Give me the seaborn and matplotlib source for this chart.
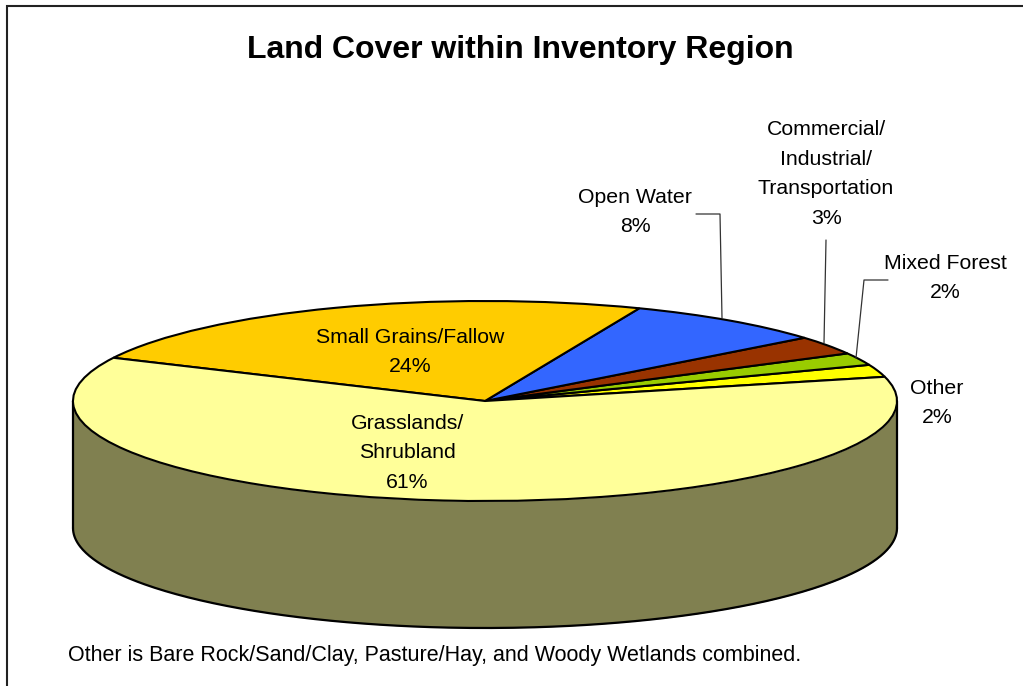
import numpy as np
import matplotlib.pyplot as plt
import matplotlib.transforms as mtransforms
from matplotlib.patches import Rectangle
import seaborn as sns

# data, counter-clockwise from the right side of the pie
categories = ["Other", "Mixed Forest", "Commercial/\nIndustrial/\nTransportation",
              "Open Water", "Small Grains/Fallow", "Grasslands/\nShrubland"]
shares = [2, 2, 3, 8, 24, 61]
colors = ["#FFFF00", "#99CC00", "#993300", "#3366FF", "#FFCC00", "#FFFF99"]
side_color = "#808050"

sns.set_style("white")
plt.rcParams["font.family"] = ["Liberation Sans", "DejaVu Sans"]
plt.rcParams["text.color"] = "black"

W, H = 1023, 686
fig = plt.figure(figsize=(W / 100, H / 100), dpi=100)
ax = fig.add_axes([0, 0, 1, 1])

# pie geometry in pixel units (y up)
cx, cy = 485, H - 401
a, b = 412, 100
depth = 127

# side of the cylinder (front half, all grassland)
t = np.radians(np.linspace(180, 360, 300))
xs = cx + a * np.cos(t)
top = cy + b * np.sin(t)
ax.fill_between(xs, top - depth, top, color=side_color, lw=0, zorder=1)
ax.plot(xs, top - depth, color="black", lw=1.6, zorder=2)
ax.plot([cx - a, cx - a], [cy, cy - depth], color="black", lw=1.6, zorder=2)
ax.plot([cx + a, cx + a], [cy, cy - depth], color="black", lw=1.6, zorder=2)

# top face: ordinary pie squashed into an ellipse
wedges, _ = ax.pie(shares, colors=colors, startangle=14, counterclock=True,
                   radius=a, center=(cx, cy),
                   wedgeprops=dict(edgecolor="black", linewidth=1.5))
squash = mtransforms.Affine2D().translate(-cx, -cy).scale(1, b / a).translate(cx, cy)
for w in wedges:
    w.set_transform(squash + ax.transData)
    w.set_zorder(3)

ax.set_xlim(0, W)
ax.set_ylim(0, H)
ax.set_aspect("auto")
ax.axis("off")

fs = 15.3
ls = 1.7
pct = ["{}%".format(s) for s in shares]
label_pos = [(937, 403), (945, 278), (826, 174), (635, 212), (410, 352), (407, 453)]
for name, p, (lx, ly) in zip(categories, pct, label_pos):
    ax.text(lx, H - ly, name + "\n" + p, ha="center", va="center",
            fontsize=fs, linespacing=ls, zorder=5)

# leader lines
lc = "#333333"
ax.plot([696, 720, 722], [H - 214, H - 214, H - 318], color=lc, lw=0.9, zorder=4)
ax.plot([826, 824], [H - 240, H - 343], color=lc, lw=0.9, zorder=4)
ax.plot([888, 864, 856], [H - 280, H - 280, H - 358], color=lc, lw=0.9, zorder=4)

ax.text(520, H - 50, "Land Cover within Inventory Region", ha="center", va="center",
        fontsize=23, fontweight="bold")
ax.text(68, H - 655, "Other is Bare Rock/Sand/Clay, Pasture/Hay, and Woody Wetlands combined.",
        ha="left", va="center", fontsize=15.5)

# outer frame, running off the right and bottom edges
ax.add_patch(Rectangle((7, -20), W + 40, H - 6 + 20, fill=False,
                       edgecolor="#222222", lw=1.5, zorder=6, clip_on=False))

fig.savefig("out.png", dpi=100)
